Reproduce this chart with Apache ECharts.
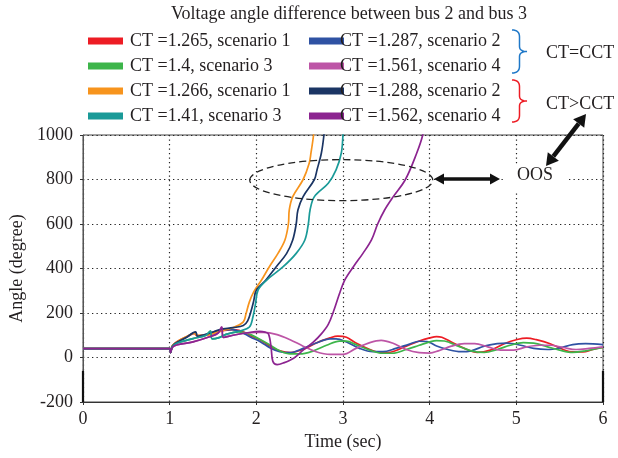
<!DOCTYPE html>
<html>
<head>
<meta charset="utf-8">
<script src="https://cdn.jsdelivr.net/npm/echarts@6/dist/echarts.min.js"></script>
<style>
html,body{margin:0;padding:0;background:#fff;}
#chart{width:618px;height:458px;}
</style>
</head>
<body>
<div id="chart"></div>
<script>
// ---------- data ----------
const titleText = 'Voltage angle difference between bus 2 and bus 3';
const seriesNames = [
  'CT =1.265, scenario 1', 'CT =1.287, scenario 2',
  'CT =1.4, scenario 3',   'CT =1.561, scenario 4',
  'CT =1.266, scenario 1', 'CT =1.288, scenario 2',
  'CT =1.41, scenario 3',  'CT =1.562, scenario 4'
];
const seriesColors = ['#ED1C24','#2F52A3','#3DB54A','#BD55A6','#F7941D','#1B3564','#1A9A98','#8C2490'];
const xTicks = [0,1,2,3,4,5,6];
const yTicks = [-200,0,200,400,600,800,1000];

// [time (s), angle (deg)]
const ct1265 = [[0,40],[1.0,40],[1.01,22],[1.03,52],[1.08,70],[1.19,92],[1.29,108],[1.31,98],[1.42,100],[1.58,117],[1.72,125],[1.8,122],[1.88,110],[1.93,99],[2.05,77],[2.16,51],[2.27,30],[2.39,22],[2.54,36],[2.69,65],[2.85,88],[2.94,96],[3.04,91],[3.15,65],[3.31,36],[3.44,22],[3.57,26],[3.73,51],[3.88,74],[4.0,88],[4.08,94],[4.14,91],[4.25,70],[4.4,41],[4.55,23],[4.7,33],[4.86,62],[5.01,81],[5.12,87],[5.23,80],[5.39,62],[5.54,36],[5.65,25],[5.77,25],[5.88,36],[6.0,45]];
const ct1287 = [[0,40],[1.0,40],[1.01,22],[1.03,50],[1.08,68],[1.19,90],[1.3,113],[1.32,96],[1.42,104],[1.58,122],[1.72,125],[1.8,118],[1.88,103],[1.93,92],[2.05,70],[2.16,43],[2.27,26],[2.39,22],[2.54,41],[2.69,65],[2.85,84],[2.92,84],[3.04,70],[3.19,41],[3.34,26],[3.46,26],[3.61,41],[3.76,59],[3.88,73],[3.97,72],[4.08,52],[4.21,36],[4.36,26],[4.48,30],[4.63,51],[4.78,62],[4.89,65],[5.05,55],[5.2,41],[5.36,36],[5.5,43],[5.65,58],[5.8,62],[6.0,58]];
const ct14 = [[0,40],[1.0,40],[1.01,22],[1.03,48],[1.08,64],[1.27,85],[1.42,100],[1.47,119],[1.49,84],[1.56,88],[1.65,104],[1.8,115],[1.9,108],[1.93,104],[2.05,80],[2.16,55],[2.27,30],[2.39,16],[2.5,16],[2.66,30],[2.81,55],[2.96,74],[3.04,74],[3.15,58],[3.31,33],[3.46,19],[3.57,19],[3.73,36],[3.88,55],[4.0,70],[4.08,76],[4.17,74],[4.33,51],[4.48,30],[4.63,23],[4.78,36],[4.93,55],[5.08,67],[5.2,65],[5.36,48],[5.5,33],[5.65,23],[5.8,30],[6.0,45]];
const ct1561 = [[0,40],[1.0,40],[1.01,22],[1.03,45],[1.08,56],[1.27,70],[1.46,93],[1.56,110],[1.6,137],[1.62,90],[1.73,100],[1.88,110],[2.0,113],[2.08,113],[2.24,103],[2.39,80],[2.54,51],[2.69,26],[2.85,14],[3.0,14],[3.15,41],[3.31,67],[3.44,77],[3.57,65],[3.73,36],[3.88,22],[4.0,20],[4.1,30],[4.25,51],[4.4,62],[4.52,62],[4.67,48],[4.82,33],[4.97,33],[5.12,48],[5.27,55],[5.39,55],[5.54,45],[5.69,36],[5.84,41],[6.0,48]];
const ct1266 = [[0,40],[1.0,40],[1.01,22],[1.03,52],[1.08,70],[1.19,93],[1.29,110],[1.31,100],[1.42,100],[1.58,119],[1.73,134],[1.85,160],[1.88,195],[1.92,250],[1.97,295],[2.06,348],[2.15,408],[2.25,468],[2.33,528],[2.37,600],[2.38,663],[2.42,723],[2.54,800],[2.61,873],[2.63,918],[2.66,1000],[2.68,1100]];
const ct1288 = [[0,40],[1.0,40],[1.01,22],[1.03,50],[1.08,68],[1.19,90],[1.3,115],[1.32,96],[1.42,104],[1.58,125],[1.73,134],[1.85,144],[1.9,165],[1.94,210],[1.97,255],[2.0,303],[2.11,348],[2.23,408],[2.35,468],[2.42,528],[2.46,600],[2.48,663],[2.54,723],[2.67,800],[2.7,843],[2.75,918],[2.78,1000],[2.8,1100]];
const ct141 = [[0,40],[1.0,40],[1.01,22],[1.03,48],[1.08,64],[1.27,85],[1.42,100],[1.47,119],[1.49,84],[1.56,88],[1.65,104],[1.81,119],[1.92,137],[1.96,181],[1.99,240],[2.02,303],[2.12,348],[2.31,408],[2.46,468],[2.56,528],[2.6,600],[2.62,663],[2.67,723],[2.83,783],[2.92,843],[2.98,918],[3.0,1000],[3.02,1100]];
const ct1562 = [[0,40],[1.0,40],[1.01,22],[1.03,45],[1.08,56],[1.27,70],[1.46,93],[1.56,110],[1.6,137],[1.62,90],[1.73,100],[1.88,110],[2.04,117],[2.1,114],[2.14,106],[2.17,48],[2.19,-17],[2.24,-32],[2.31,-25],[2.43,-3],[2.54,33],[2.66,70],[2.75,106],[2.83,149],[2.89,207],[2.96,288],[3.02,348],[3.12,408],[3.23,468],[3.33,530],[3.4,600],[3.48,663],[3.58,723],[3.72,800],[3.85,918],[3.92,1000],[3.94,1060]];
const seriesData = [ct1265, ct1287, ct14, ct1561, ct1266, ct1288, ct141, ct1562];

// ---------- chart ----------
const FONT = "'Liberation Serif','Times New Roman',serif";
const TXT = '#231F20';
const chart = echarts.init(document.getElementById('chart'), null, {renderer:'canvas'});

const dotted = {color:'#222', width:1.2, type:[1.3,3.2]};

const option = {
  backgroundColor:'#fff',
  animation:false,
  textStyle:{fontFamily:FONT},
  title:{
    text:titleText, left:344, top:0, textAlign:'center',
    textStyle:{fontFamily:FONT, fontSize:18, fontWeight:'normal', color:TXT}
  },
  legend:[
    {
      orient:'vertical', left:83, top:27, itemWidth:35, itemHeight:7, itemGap:7,
      icon:'rect', data:[seriesNames[0],seriesNames[2],seriesNames[4],seriesNames[6]],
      textStyle:{fontFamily:FONT, fontSize:18, color:TXT, padding:[0,0,0,2]}
    },
    {
      orient:'vertical', left:304, top:27, itemWidth:35, itemHeight:7, itemGap:7,
      icon:'rect', data:[seriesNames[1],seriesNames[3],seriesNames[5],seriesNames[7]],
      textStyle:{fontFamily:FONT, fontSize:18, color:TXT, padding:[0,0,0,-9]}
    }
  ],
  grid:{left:83, top:135, right:15, bottom:56, show:true, borderColor:'#444', borderWidth:1},
  xAxis:{
    type:'value', min:xTicks[0], max:xTicks[xTicks.length-1], interval:1,
    name:'Time (sec)', nameLocation:'middle', nameGap:29,
    nameTextStyle:{fontFamily:FONT, fontSize:18, color:TXT},
    axisLine:{show:true, onZero:false, lineStyle:{color:'#333', width:1}},
    axisTick:{show:true, length:3, lineStyle:{color:'#333'}},
    axisLabel:{fontFamily:FONT, fontSize:18, color:TXT, margin:8},
    splitLine:{show:true, lineStyle:dotted}
  },
  yAxis:{
    type:'value', min:yTicks[0], max:yTicks[yTicks.length-1], interval:200,
    name:'Angle (degree)', nameLocation:'middle', nameGap:53,
    nameTextStyle:{fontFamily:FONT, fontSize:18, color:TXT},
    axisLine:{show:true, onZero:false, lineStyle:{color:'#555', width:1}},
    axisTick:{show:true, length:3, lineStyle:{color:'#333'}},
    axisLabel:{fontFamily:FONT, fontSize:18, color:TXT, margin:10, formatter:(v)=>String(v)},
    splitLine:{show:true, lineStyle:dotted}
  },
  series: seriesNames.map((n,i)=>({
    name:n, type:'line', data:seriesData[i], showSymbol:false, symbol:'none',
    smooth:0.35, clip:true,
    itemStyle:{color:seriesColors[i]},
    lineStyle:{color:seriesColors[i], width:1.7}
  }))
};
chart.setOption(option);

// ---------- annotations ----------
function quad(p0,p1,p2,n){
  const out=[];
  for(let k=0;k<=n;k++){const t=k/n,a=(1-t)*(1-t),b=2*(1-t)*t,c=t*t;
    out.push([a*p0[0]+b*p1[0]+c*p2[0], a*p0[1]+b*p1[1]+c*p2[1]]);}
  return out;
}
function brace(x, y0, y1, w, color){
  const mid=(y0+y1)/2, h=y1-y0, xm=x+w*0.5;
  let pts=[];
  pts=pts.concat(quad([x,y0],[xm,y0],[xm,y0+0.16*h],8));
  pts=pts.concat(quad([xm,mid-0.12*h],[xm,mid],[x+w,mid],8));
  pts=pts.concat(quad([x+w,mid],[xm,mid],[xm,mid+0.12*h],8));
  pts=pts.concat(quad([xm,y1-0.16*h],[xm,y1],[x,y1],8));
  return {type:'polyline', shape:{points:pts}, style:{stroke:color, fill:null, lineWidth:1.5}, z:10};
}
function dblArrow(x1,y1,x2,y2,lw,hl,hw){
  const dx=x2-x1, dy=y2-y1, L=Math.hypot(dx,dy), ux=dx/L, uy=dy/L, px=-uy, py=ux;
  const a1x=x1+ux*hl, a1y=y1+uy*hl, a2x=x2-ux*hl, a2y=y2-uy*hl;
  return [
    {type:'line', shape:{x1:a1x,y1:a1y,x2:a2x,y2:a2y}, style:{stroke:'#111', lineWidth:lw}, z:12},
    {type:'polygon', shape:{points:[[x1,y1],[a1x+px*hw,a1y+py*hw],[a1x-px*hw,a1y-py*hw]]}, style:{fill:'#111'}, z:12},
    {type:'polygon', shape:{points:[[x2,y2],[a2x+px*hw,a2y+py*hw],[a2x-px*hw,a2y-py*hw]]}, style:{fill:'#111'}, z:12}
  ];
}
const c = chart.convertToPixel({gridIndex:0}, [2.98, 797]);
const pBot = chart.convertToPixel({gridIndex:0}, [0, -200]);
const pSeg = chart.convertToPixel({gridIndex:0}, [6, -60]);
const graphics = [
  {type:'ellipse', shape:{cx:c[0], cy:c[1], rx:91.5, ry:20.5},
   style:{stroke:'#222', fill:null, lineWidth:1.3, lineDash:[7,4]}, z:11},
  {type:'rect', shape:{x:506, y:164, width:60, height:28}, style:{fill:'#fff'}, z:9},
  {type:'text', x:517, y:166, style:{text:'OOS', font:`18px ${FONT}`, fill:TXT}, z:13},
  brace(512, 30, 73, 15, '#1F78C8'),
  brace(512, 80, 122, 15, '#ED1C24'),
  {type:'text', x:546, y:44, style:{text:'CT=CCT', font:`18px ${FONT}`, fill:TXT}, z:13},
  {type:'text', x:546, y:95, style:{text:'CT>CCT', font:`18px ${FONT}`, fill:TXT}, z:13},
  {type:'line', shape:{x1:pBot[0], y1:pSeg[1], x2:pBot[0], y2:pBot[1]}, style:{stroke:'#111', lineWidth:2.2}, z:12},
  {type:'line', shape:{x1:pSeg[0], y1:pSeg[1], x2:pSeg[0], y2:pBot[1]}, style:{stroke:'#111', lineWidth:2.2}, z:12}
].concat(dblArrow(434,179,500,179,3.5,10,5.5)).concat(dblArrow(546,166,586,114,4.5,12,7));
chart.setOption({graphic:graphics});
</script>
</body>
</html>
